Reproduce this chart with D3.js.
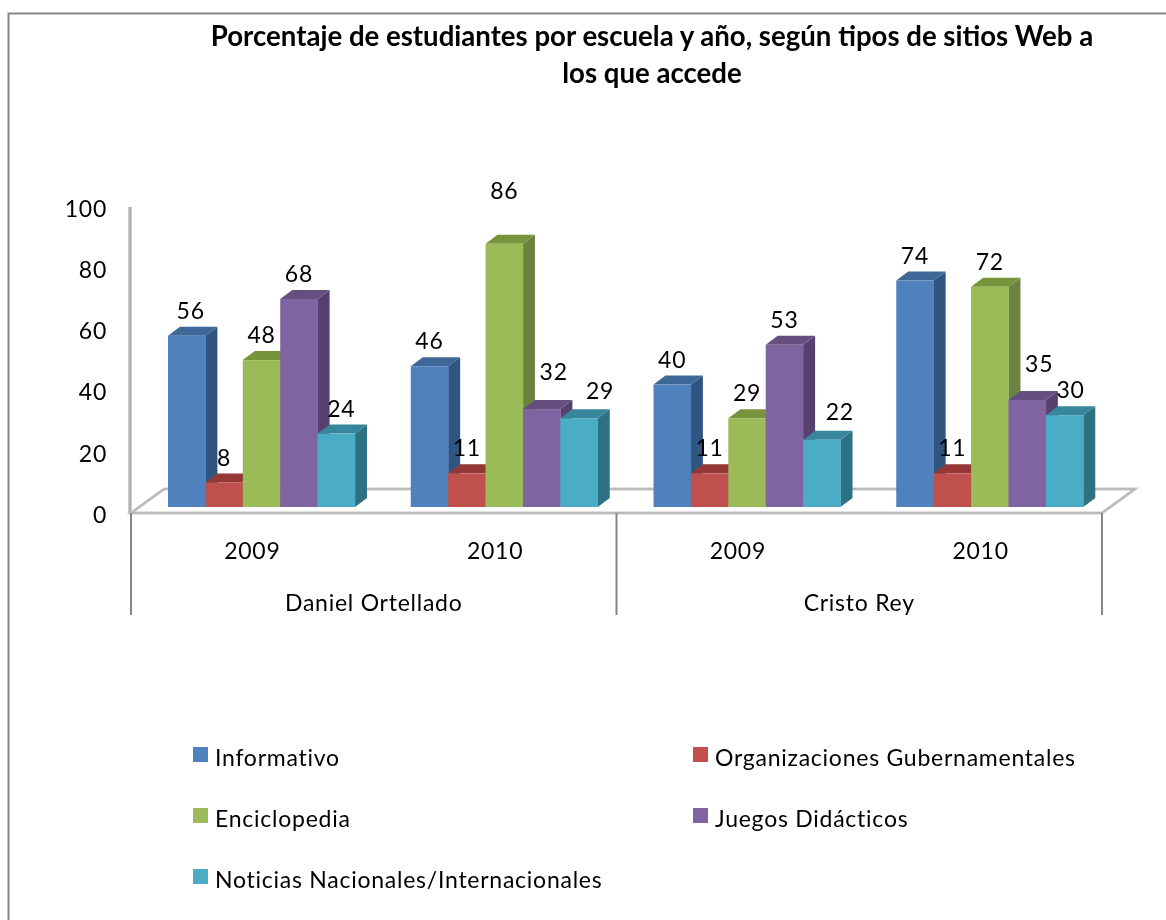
<!DOCTYPE html>
<html>
<head>
<meta charset="utf-8">
<title>Porcentaje de estudiantes</title>
<style>
body { margin: 0; background: #fff; }
svg { display: block; filter: blur(0.35px); }
text { font-family: Lato, "Open Sans", sans-serif; fill: #000; }
.lbl { font-size: 23px; letter-spacing: 0.75px; }
.title { font-size: 27.6px; font-weight: 700; }
</style>
</head>
<body>
<svg width="1166" height="920"></svg>
<script src="https://cdn.jsdelivr.net/npm/d3@7"></script>
<script>

var titleLines = ["Porcentaje de estudiantes por escuela y año, según tipos de sitios Web a", "los que accede"];
var schools = ["Daniel Ortellado", "Cristo Rey"];
var groups = ["2009", "2010", "2009", "2010"];
var series = ["Informativo", "Organizaciones Gubernamentales", "Enciclopedia", "Juegos Didácticos", "Noticias Nacionales/Internacionales"];
var informativo = [56, 46, 40, 74];
var gubernamentales = [8, 11, 11, 11];
var enciclopedia = [48, 86, 29, 72];
var juegos = [68, 32, 53, 35];
var noticias = [24, 29, 22, 30];
var yTicks = [0, 20, 40, 60, 80, 100];

var values = [informativo, gubernamentales, enciclopedia, juegos, noticias];
var front = ["#4f81bd", "#c0504d", "#9bbb59", "#8064a2", "#4bacc6"];
var top3d = ["#3f6797", "#953735", "#77933c", "#654f80", "#37869b"];
var side = ["#2f5580", "#8c3836", "#6b8340", "#573f6e", "#2e7183"];

var svg = d3.select("svg");

// left and top edge of the frame only, the others are cropped
svg.append("path").attr("d", "M8.5,920V13.5H1166").attr("fill", "none").attr("stroke", "#868686").attr("stroke-width", 2);

titleLines.forEach(function(t, i) {
  svg.append("text").attr("class", "title").attr("x", 652).attr("y", 46 + i * 37)
    .attr("text-anchor", "middle").text(t);
});

var y = d3.scaleLinear().domain([0, 100]).range([513, 207]);
var x0 = d3.scaleBand().domain(d3.range(4)).range([131, 1102]);
var x1 = d3.scaleBand().domain(d3.range(5)).range([37, 224]);
var baseShift = -6, depthX = 12, depthY = 9, floorX = 33, floorY = 24;

// floor
var floorPts = [[x0.range()[0], y(0)], [x0.range()[1], y(0)], [x0.range()[1] + floorX, y(0) - floorY], [x0.range()[0] + floorX, y(0) - floorY]];
svg.append("polygon").attr("points", floorPts.join(" ")).attr("fill", "#fff").attr("stroke", "#c8c8c8").attr("stroke-width", 3);
svg.append("polygon").attr("points", floorPts.join(" ")).attr("fill", "none").attr("stroke", "#acacac").attr("stroke-width", 1);

// wall line
svg.append("line").attr("x1", 130).attr("x2", 130).attr("y1", y(100)).attr("y2", y(0))
  .attr("stroke", "#c8c8c8").attr("stroke-width", 4);
svg.append("line").attr("x1", 130).attr("x2", 130).attr("y1", y(100)).attr("y2", y(0))
  .attr("stroke", "#acacac").attr("stroke-width", 1.5);

// y axis labels
var yAxis = d3.axisLeft(y).tickValues(yTicks).tickSize(0).tickPadding(0);
var yg = svg.append("g").attr("transform", "translate(107,2)").call(yAxis);
yg.select(".domain").remove();
yg.selectAll("text").attr("class", "lbl").style("font-size", "23px").style("font-family", "Lato");

// bars
var bars = [];
groups.forEach(function(g, gi) {
  series.forEach(function(s, si) {
    bars.push({ g: gi, s: si, v: values[si][gi] });
  });
});

var bar = svg.selectAll(".bar").data(bars).enter().append("g").attr("class", "bar");
function bx(d) { return x0(d.g) + x1(d.s); }
function by(d) { return y(d.v) + baseShift; }
var bw = x1.bandwidth(), baseY = y(0) + baseShift;

bar.append("polygon").attr("fill", function(d) { return side[d.s]; })
  .attr("points", function(d) {
    var r = bx(d) + bw;
    return [[r, by(d)], [r + depthX, by(d) - depthY], [r + depthX, baseY - depthY], [r, baseY]].join(" ");
  });
bar.append("polygon").attr("fill", function(d) { return top3d[d.s]; })
  .attr("points", function(d) {
    var l = bx(d), t = by(d);
    return [[l, t], [l + depthX, t - depthY], [l + bw + depthX, t - depthY], [l + bw, t]].join(" ");
  });
bar.append("rect").attr("fill", function(d) { return front[d.s]; })
  .attr("x", bx).attr("y", by).attr("width", bw + 0.3)
  .attr("height", function(d) { return baseY - by(d); });

// data labels, a few were moved by hand in the original
var nudge = { "0-0": [4, 0], "1-2": [0, -28], "1-3": [12, -12], "1-4": [21, -2], "2-4": [18, -3], "3-3": [12, -11], "0-4": [5, 0], "3-4": [6, 0] };
svg.selectAll(".val").data(bars).enter().append("text")
  .attr("class", "lbl val").attr("text-anchor", "middle")
  .attr("x", function(d) { var n = nudge[d.g + "-" + d.s] || [0, 0]; return bx(d) + bw / 2 + n[0]; })
  .attr("y", function(d) { var n = nudge[d.g + "-" + d.s] || [0, 0]; return by(d) - 26 + n[1] + 9; })
  .text(function(d) { return d.v; });

// multi level category axis
[0, 2, 4].forEach(function(i) {
  var px = i < 4 ? x0(i) : x0.range()[1];
  svg.append("line").attr("x1", px).attr("x2", px).attr("y1", y(0)).attr("y2", 615)
    .attr("stroke", "#868686").attr("stroke-width", 2);
});
svg.selectAll(".cat").data(groups).enter().append("text")
  .attr("class", "lbl cat").attr("text-anchor", "middle")
  .attr("x", function(d, i) { return x0(i) + x0.bandwidth() / 2; }).attr("y", 559)
  .text(function(d) { return d; });
svg.selectAll(".school").data(schools).enter().append("text")
  .attr("class", "lbl school").attr("text-anchor", "middle")
  .attr("x", function(d, i) { return x0(i * 2) + x0.bandwidth(); }).attr("y", 611)
  .text(function(d) { return d; });

// legend
var legX = d3.scalePoint().domain([0, 1]).range([193, 693]);
var legY = d3.scalePoint().domain([0, 1, 2]).range([747, 869]);
var leg = svg.selectAll(".leg").data(series).enter().append("g").attr("class", "leg")
  .attr("transform", function(d, i) { return "translate(" + legX(i % 2) + "," + legY(Math.floor(i / 2)) + ")"; });
leg.append("rect").attr("width", 15).attr("height", 15).attr("fill", function(d, i) { return front[i]; });
leg.append("text").attr("class", "lbl").attr("x", 22).attr("y", 19).text(function(d) { return d; });

</script>
</body>
</html>
